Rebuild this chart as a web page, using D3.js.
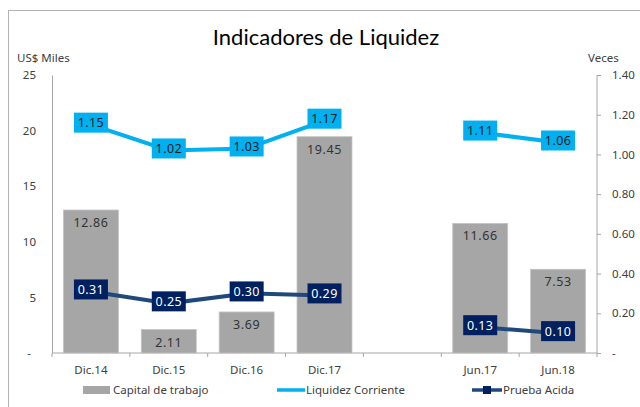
<!DOCTYPE html>
<html>
<head>
<meta charset="utf-8">
<script src="https://cdn.jsdelivr.net/npm/d3@7"></script>
<style>
  body { margin: 0; background: #fff; }
  text { font-family: "Noto Sans", sans-serif; }
</style>
</head>
<body>
<div id="chart"></div>
<script>
// data; '' is the empty slot between Dic.17 and Jun.17
const categories = ['Dic.14', 'Dic.15', 'Dic.16', 'Dic.17', '', 'Jun.17', 'Jun.18'];
const capitalTrabajo = [12.86, 2.11, 3.69, 19.45, null, 11.66, 7.53];
const liquidezCorriente = [1.15, 1.02, 1.03, 1.17, null, 1.11, 1.06];
const pruebaAcida = [0.31, 0.25, 0.30, 0.29, null, 0.13, 0.10];
const leftTicks = [0, 5, 10, 15, 20, 25];
const rightTicks = [0, 0.2, 0.4, 0.6, 0.8, 1.0, 1.2, 1.4];

const width = 640, height = 407;
const margin = { top: 75, bottom: 54, left: 52, right: 43 };
const plotBottom = height - margin.bottom;

const svg = d3.select('#chart').append('svg')
  .attr('width', width)
  .attr('height', height);

// outer frame (only top and left visible in the crop)
svg.append('rect')
  .attr('x', 8.5).attr('y', 10.5)
  .attr('width', 700).attr('height', 500)
  .attr('fill', 'none').attr('stroke', '#b3b3b3');

svg.append('text')
  .attr('x', 326).attr('y', 45)
  .attr('text-anchor', 'middle')
  .style('font-family', 'Lato, sans-serif')
  .style('font-size', '22px')
  .attr('fill', '#000')
  .text('Indicadores de Liquidez');

const x = d3.scaleBand()
  .domain(categories)
  .range([margin.left, width - margin.right])
  .paddingInner(0.294)
  .paddingOuter(0.147);
const slot = d3.scaleBand().domain(categories).range([margin.left, width - margin.right]);
const cx = (i) => slot(categories[i]) + slot.bandwidth() / 2;

const yL = d3.scaleLinear().domain([0, 25]).range([plotBottom, margin.top]);
const yR = d3.scaleLinear().domain([0, 1.4]).range([plotBottom, margin.top]);

const axisColor = '#a6a6a6';
const textColor = '#404040';
const fs = '11.5px';

// left axis
const gL = svg.append('g')
  .attr('transform', `translate(${margin.left},0)`)
  .call(d3.axisLeft(yL).tickValues(leftTicks).tickSize(0).tickPadding(16)
    .tickFormat(d => d === 0 ? '-' : d));
gL.select('.domain').attr('stroke', axisColor);
gL.selectAll('text').style('font-size', fs).attr('fill', textColor)
  .attr('dx', d => d === 0 ? -5 : 0);

// right axis
const gR = svg.append('g')
  .attr('transform', `translate(${width - margin.right},0)`)
  .call(d3.axisRight(yR).tickValues(rightTicks).tickSize(4).tickPadding(11)
    .tickFormat(d => d === 0 ? '-' : d3.format('.2f')(d)));
gR.select('.domain').attr('stroke', axisColor).attr('d', `M0,${margin.top}V${plotBottom}`);
gR.selectAll('.tick line').attr('stroke', axisColor);
gR.selectAll('text').style('font-size', fs).attr('fill', textColor);

// bottom axis: labels at centres, ticks on slot boundaries
const gB = svg.append('g')
  .attr('transform', `translate(0,${plotBottom})`)
  .call(d3.axisBottom(slot).tickSize(0).tickPadding(13));
gB.select('.domain').attr('stroke', axisColor).attr('d', `M${margin.left},0H${width - margin.right}`);
gB.selectAll('text').style('font-size', fs).attr('fill', textColor);
svg.append('g').selectAll('line')
  .data(d3.range(categories.length + 1))
  .join('line')
  .attr('x1', i => margin.left + i * slot.step())
  .attr('x2', i => margin.left + i * slot.step())
  .attr('y1', plotBottom).attr('y2', plotBottom + 4)
  .attr('stroke', axisColor);

// axis titles
svg.append('text').attr('x', 17).attr('y', 62)
  .style('font-size', fs).attr('fill', textColor).text('US$ Miles');
svg.append('text').attr('x', 588).attr('y', 62)
  .style('font-size', fs).attr('fill', textColor).text('Veces');

// bars
const barData = capitalTrabajo.map((v, i) => ({ v, i })).filter(d => d.v != null);
svg.append('g').selectAll('rect')
  .data(barData)
  .join('rect')
  .attr('x', d => x(categories[d.i]))
  .attr('y', d => yL(d.v))
  .attr('width', x.bandwidth())
  .attr('height', d => plotBottom - yL(d.v))
  .attr('fill', '#a6a6a6')
  .attr('stroke', '#c4c4c4')
  .attr('stroke-width', 0.8);
svg.append('g').selectAll('text')
  .data(barData)
  .join('text')
  .attr('x', d => cx(d.i))
  .attr('y', d => yL(d.v) + 17)
  .attr('text-anchor', 'middle')
  .style('font-size', '12.5px')
  .style('letter-spacing', '0.6px')
  .attr('fill', '#333')
  .text(d => d3.format('.2f')(d.v));

// lines with boxed labels
function drawSeries(values, lineColor, boxColor, labelColor) {
  const pts = values.map((v, i) => ({ v, i }));
  const line = d3.line()
    .defined(d => d.v != null)
    .x(d => cx(d.i))
    .y(d => yR(d.v));
  svg.append('path')
    .datum(pts)
    .attr('d', line)
    .attr('fill', 'none')
    .attr('stroke', lineColor)
    .attr('stroke-width', 4);
  const lab = svg.append('g').selectAll('g')
    .data(pts.filter(d => d.v != null))
    .join('g')
    .attr('transform', d => `translate(${cx(d.i)},${yR(d.v) - 2})`);
  lab.append('rect')
    .attr('x', -17).attr('y', -10)
    .attr('width', 34).attr('height', 20)
    .attr('fill', boxColor);
  lab.append('text')
    .attr('text-anchor', 'middle')
    .attr('dy', '0.36em')
    .style('font-size', '12.5px')
    .style('letter-spacing', '0.4px')
    .attr('fill', labelColor)
    .text(d => d3.format('.2f')(d.v));
}
drawSeries(liquidezCorriente, '#00b0f0', '#00b0f0', '#1a1a1a');
drawSeries(pruebaAcida, '#1f497d', '#002060', '#ffffff');

// legend
const lg = svg.append('g').style('font-size', fs);
lg.append('rect').attr('x', 83).attr('y', 386).attr('width', 27).attr('height', 8).attr('fill', '#a6a6a6');
lg.append('text').attr('x', 113).attr('y', 394).attr('fill', textColor).text('Capital de trabajo');
lg.append('line').attr('x1', 277).attr('x2', 305).attr('y1', 390).attr('y2', 390)
  .attr('stroke', '#00b0f0').attr('stroke-width', 3.5);
lg.append('text').attr('x', 306).attr('y', 394).attr('fill', textColor).text('Liquidez Corriente');
lg.append('line').attr('x1', 472).attr('x2', 502).attr('y1', 390).attr('y2', 390)
  .attr('stroke', '#1f497d').attr('stroke-width', 3.5);
lg.append('rect').attr('x', 483).attr('y', 386).attr('width', 8).attr('height', 8).attr('fill', '#002060');
lg.append('text').attr('x', 503).attr('y', 394).attr('fill', textColor).text('Prueba Acida');
</script>
</body>
</html>
